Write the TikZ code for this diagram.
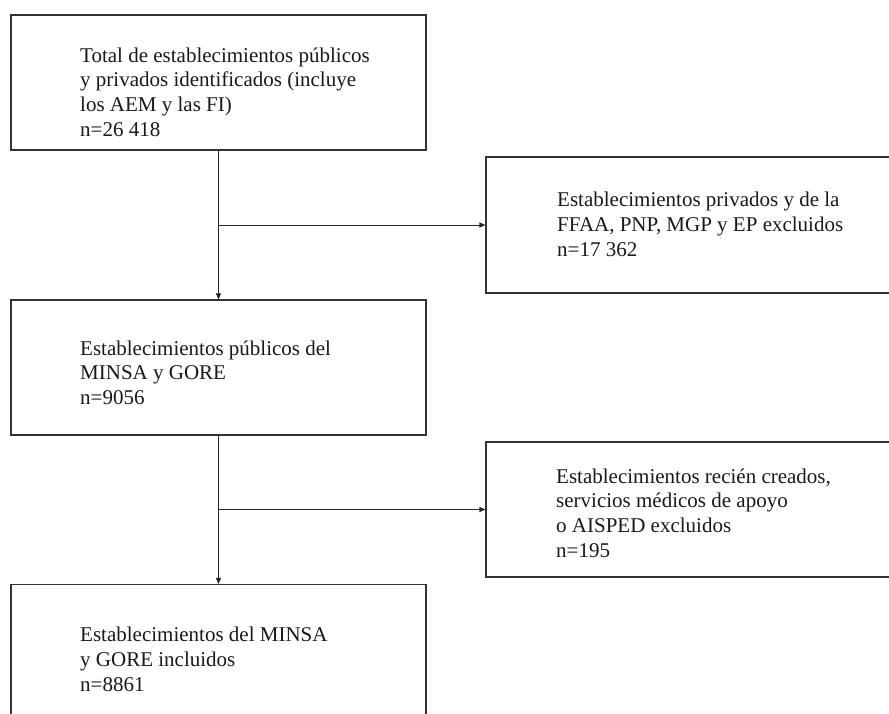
\documentclass[tikz,border=0pt]{standalone}
\usepackage{fontspec}
\setmainfont{Liberation Serif}
\usetikzlibrary{arrows.meta}
\begin{document}
\begin{tikzpicture}[x=1pt,y=-1pt,
  box/.style={draw=black!80, line width=1.1pt, inner sep=0pt},
  txt/.style={anchor=base west, align=left, inner sep=0pt, text=black!90,
    font=\fontsize{21}{24.8}\selectfont},
  conn/.style={draw=black!85, line width=1pt},
  arr/.style={conn, -{Triangle[length=6pt,width=5pt]}}]
\useasboundingbox (0,0) rectangle (889,713);
\clip (0,0) rectangle (889,713);
% boxes
\node[box, minimum width=415, minimum height=135] (b1) at (218.5,82.5) {};
\node[box, minimum width=420, minimum height=136] (b2) at (696,225) {};
\node[box, minimum width=415, minimum height=135] (b3) at (218.5,367.5) {};
\node[box, minimum width=420, minimum height=135] (b4) at (696,509.5) {};
\node[box, minimum width=415, minimum height=150] (b5) at (218.5,659.5) {};
% texts (anchor = baseline of last line)
\node[txt] (t1) at (80,136.4) {Total de establecimientos públicos\\y privados identificados (incluye\\los AEM y las FI)\\n=26 418};
\node[txt] (t2) at (557,256) {Establecimientos privados y de la\\FFAA, PNP, MGP y EP excluidos\\n=17 362};
\node[txt] (t3) at (80,404.6) {Establecimientos públicos del\\MINSA y GORE\\n=9056};
\node[txt] (t4) at (556,557.4) {Establecimientos recién creados,\\servicios médicos de apoyo\\o AISPED excluidos\\n=195};
\node[txt] (t5) at (80,691) {Establecimientos del MINSA\\y GORE incluidos\\n=8861};
% connectors
\coordinate (j1) at (b1.south |- b2.west);
\coordinate (j2) at (b3.south |- b4.west);
\draw[arr] (b1.south) -- (b3.north);
\draw[arr] (j1) -- (b2.west);
\draw[arr] (b3.south) -- (b5.north);
\draw[arr] (j2) -- (b4.west);
\end{tikzpicture}
\end{document}
